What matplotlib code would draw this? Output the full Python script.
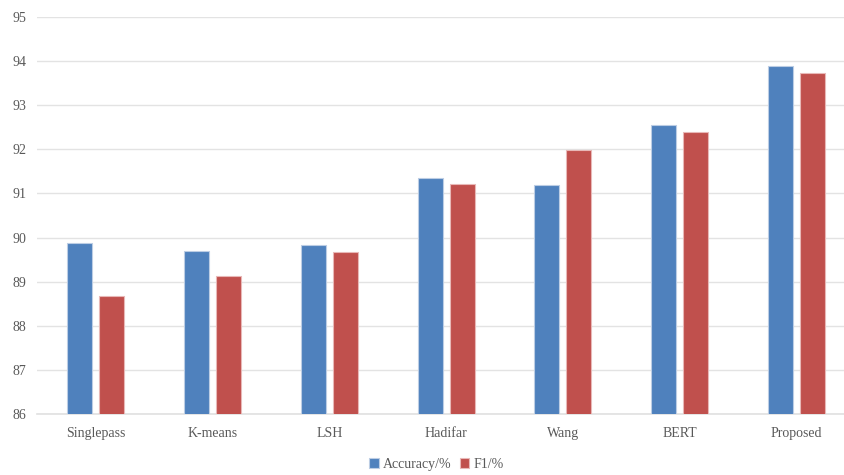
import matplotlib
matplotlib.use("Agg")
import matplotlib.pyplot as plt
import numpy as np

methods = ["Singlepass", "K-means", "LSH", "Hadifar", "Wang", "BERT", "Proposed"]
accuracy = [89.87, 89.70, 89.83, 91.35, 91.20, 92.54, 93.88]
f1 = [88.68, 89.13, 89.67, 91.22, 91.98, 92.38, 93.73]
series_names = ["Accuracy/%", "F1/%"]
y_ticks = [86, 87, 88, 89, 90, 91, 92, 93, 94, 95]

plt.rcParams["font.family"] = ["Liberation Serif", "DejaVu Serif"]

fig = plt.figure(figsize=(8.44, 4.75), dpi=100)
ax = fig.add_axes([0.0442, 0.1278, 0.9558, 0.837])

x = np.arange(len(methods))
w = 0.214
off = 0.137
ax.bar(x - off, accuracy, width=w, bottom=0, color="#4F81BD",
       edgecolor="#BCCDE4", linewidth=0.8, label=series_names[0], zorder=3)
ax.bar(x + off, f1, width=w, bottom=0, color="#C0504D",
       edgecolor="#E8B8B7", linewidth=0.8, label=series_names[1], zorder=3)

ax.set_ylim(86, 95)
ax.set_xlim(-0.5, 6.407)
ax.set_yticks(y_ticks)
ax.set_xticks(x)
ax.set_xticklabels(methods)
ax.yaxis.grid(True, color="#E3E3E3", linewidth=1.0, zorder=0)
ax.set_axisbelow(True)
for s in ["top", "right", "left"]:
    ax.spines[s].set_visible(False)
ax.spines["bottom"].set_color("#E0E0E0")
ax.spines["bottom"].set_linewidth(1.2)
ax.tick_params(axis="both", length=0, labelsize=10, labelcolor="#595959")
ax.tick_params(axis="x", pad=9)
ax.tick_params(axis="y", pad=8)

fig.legend(loc="lower center", bbox_to_anchor=(0.517, -0.018), ncol=2, frameon=False,
           fontsize=10, handlelength=0.7, handleheight=0.7, handletextpad=0.3,
           columnspacing=0.6, labelcolor="#595959")

fig.savefig("out.png", dpi=100)
